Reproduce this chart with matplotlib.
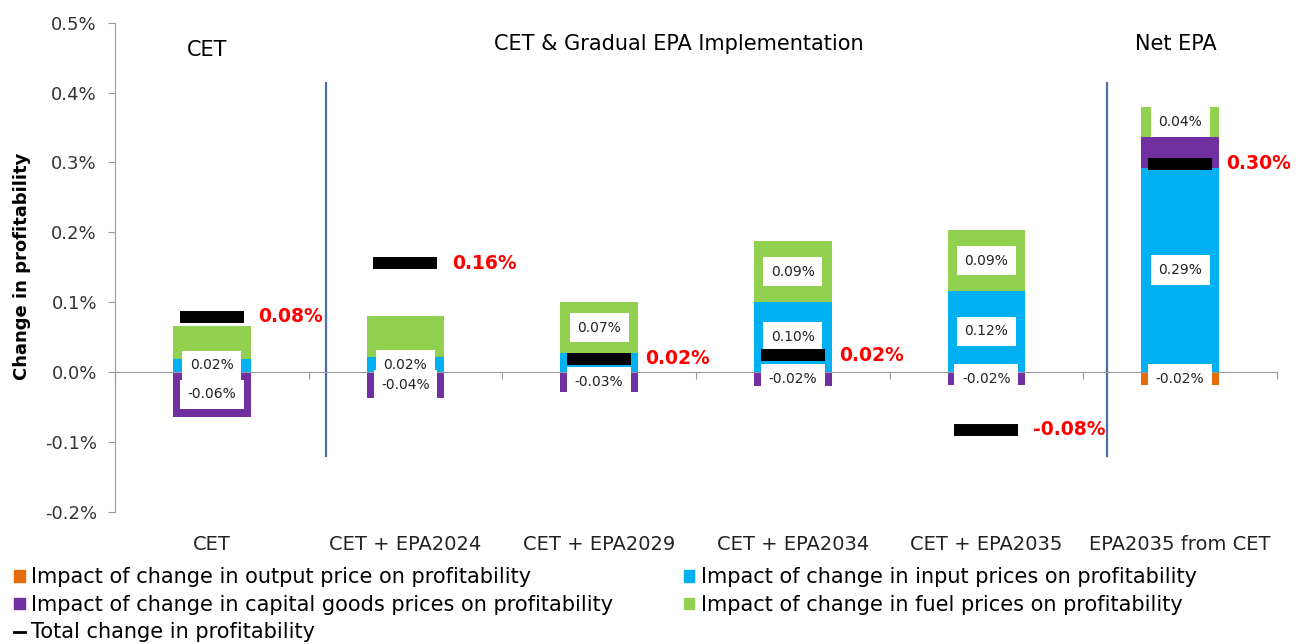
import matplotlib
matplotlib.use("Agg")
import matplotlib.pyplot as plt
import matplotlib.transforms as mtransforms
from matplotlib.patches import Patch
from matplotlib.lines import Line2D
import numpy as np

plt.rcParams['font.family'] = ['DejaVu Sans']

# data (% change in profitability)
categories = ["CET", "CET + EPA2024", "CET + EPA2029", "CET + EPA2034",
              "CET + EPA2035", "EPA2035 from CET"]
output_price = [0.0, 0.0, 0.0, 0.0, 0.0, -0.019]
input_prices = [0.019, 0.021, 0.027, 0.100, 0.116, 0.292]
capital_prices = [-0.064, -0.037, -0.028, -0.020, -0.019, 0.045]
fuel_prices = [0.047, 0.059, 0.073, 0.087, 0.087, 0.042]
total_change = [0.079, 0.156, 0.019, 0.024, -0.083, 0.298]

# which segments carry a data label
show_output = [False, False, False, False, False, True]
show_input = [True, True, False, True, True, True]
show_capital = [True, True, True, True, True, False]
show_fuel = [False, False, True, True, True, True]

series_names = ["Impact of change in output price on profitability",
                "Impact of change in input prices on profitability",
                "Impact of change in capital goods prices on profitability",
                "Impact of change in fuel prices on profitability"]
total_name = "Total change in profitability"
group_titles = ["CET", "CET & Gradual EPA Implementation", "Net EPA"]
yticks = [-0.2, -0.1, 0.0, 0.1, 0.2, 0.3, 0.4, 0.5]

colors = ["#E46C0A", "#00B0F0", "#7030A0", "#92D050"]

fig = plt.figure(figsize=(12.96, 6.44), dpi=100)
ax = fig.add_axes([0.0887, 0.2054, 0.8966, 0.7594])

x = np.arange(len(categories))
width = 0.4
pos_bottom = np.zeros(len(categories))
neg_bottom = np.zeros(len(categories))

all_series = [output_price, input_prices, capital_prices, fuel_prices]
all_show = [show_output, show_input, show_capital, show_fuel]

for vals, show, col in zip(all_series, all_show, colors):
    vals = np.array(vals)
    bottom = np.where(vals >= 0, pos_bottom, neg_bottom)
    ax.bar(x, vals, width, bottom=bottom, color=col, zorder=2)
    for i in range(len(x)):
        if show[i] and vals[i] != 0:
            ax.text(x[i], bottom[i] + vals[i] / 2, f"{vals[i]:.2f}%",
                    ha='center', va='center', fontsize=10, color='#222222',
                    zorder=3,
                    bbox=dict(boxstyle='square,pad=0.55', facecolor='white',
                              edgecolor='none'))
    pos_bottom = pos_bottom + np.where(vals >= 0, vals, 0)
    neg_bottom = neg_bottom + np.where(vals < 0, vals, 0)

ax.plot(x, total_change, linestyle='none', marker='_', markersize=46,
        markeredgewidth=8.6, color='black', zorder=4)
for i in range(len(x)):
    ax.text(x[i] + 0.24, total_change[i], f"{total_change[i]:.2f}%",
            ha='left', va='center', fontsize=13.5, fontweight='bold',
            color='#FF0000', zorder=5)

# separators
for sx in [0.59, 4.62]:
    ax.plot([sx, sx], [-0.12, 0.413], color='#4A6FA5', lw=1.6, zorder=1)

ax.set_xlim(-0.5, 5.5)
ax.set_ylim(-0.2, 0.5)
ax.set_yticks(yticks)
ax.set_yticklabels([f"{v:.1f}%" for v in yticks])
ax.tick_params(axis='y', length=5, color='#999999', labelsize=13,
               labelcolor='#333333', pad=8)
ax.set_xticks(np.arange(-0.5, 6.0, 1.0))
ax.set_xticklabels([])
ax.tick_params(axis='x', length=5, color='#999999', direction='out')

ax.spines['top'].set_visible(False)
ax.spines['right'].set_visible(False)
ax.spines['bottom'].set_position(('data', 0))
ax.spines['bottom'].set_color('#999999')
ax.spines['left'].set_color('#999999')

trans = mtransforms.blended_transform_factory(ax.transData, fig.transFigure)
for i, c in enumerate(categories):
    ax.text(x[i], 0.154, c, transform=trans, ha='center', va='center',
            fontsize=14, color='#222222')

ax.text(-0.025, 0.922, group_titles[0], transform=trans, ha='center',
        va='center', fontsize=15, color='black')
ax.text(2.41, 0.932, group_titles[1], transform=trans, ha='center',
        va='center', fontsize=15, color='black')
ax.text(4.98, 0.932, group_titles[2], transform=trans, ha='center',
        va='center', fontsize=15, color='black')

fig.text(0.017, 0.587, "Change in profitability", rotation=90,
         ha='center', va='center', fontsize=13, fontweight='bold')

handles = [Patch(color=colors[0]), Patch(color=colors[2]),
           Line2D([], [], color='black', lw=2),
           Patch(color=colors[1]), Patch(color=colors[3])]
labels = [series_names[0], series_names[2], total_name,
          series_names[1], series_names[3]]
fig.legend(handles, labels, loc='upper left', bbox_to_anchor=(0.011, 0.119),
           bbox_transform=fig.transFigure, ncol=2, frameon=False,
           fontsize=15, handlelength=0.5, handleheight=0.5,
           handletextpad=0.3, labelspacing=0.36, columnspacing=3.4,
           borderpad=0, borderaxespad=0)

fig.savefig("out.png", dpi=100)
